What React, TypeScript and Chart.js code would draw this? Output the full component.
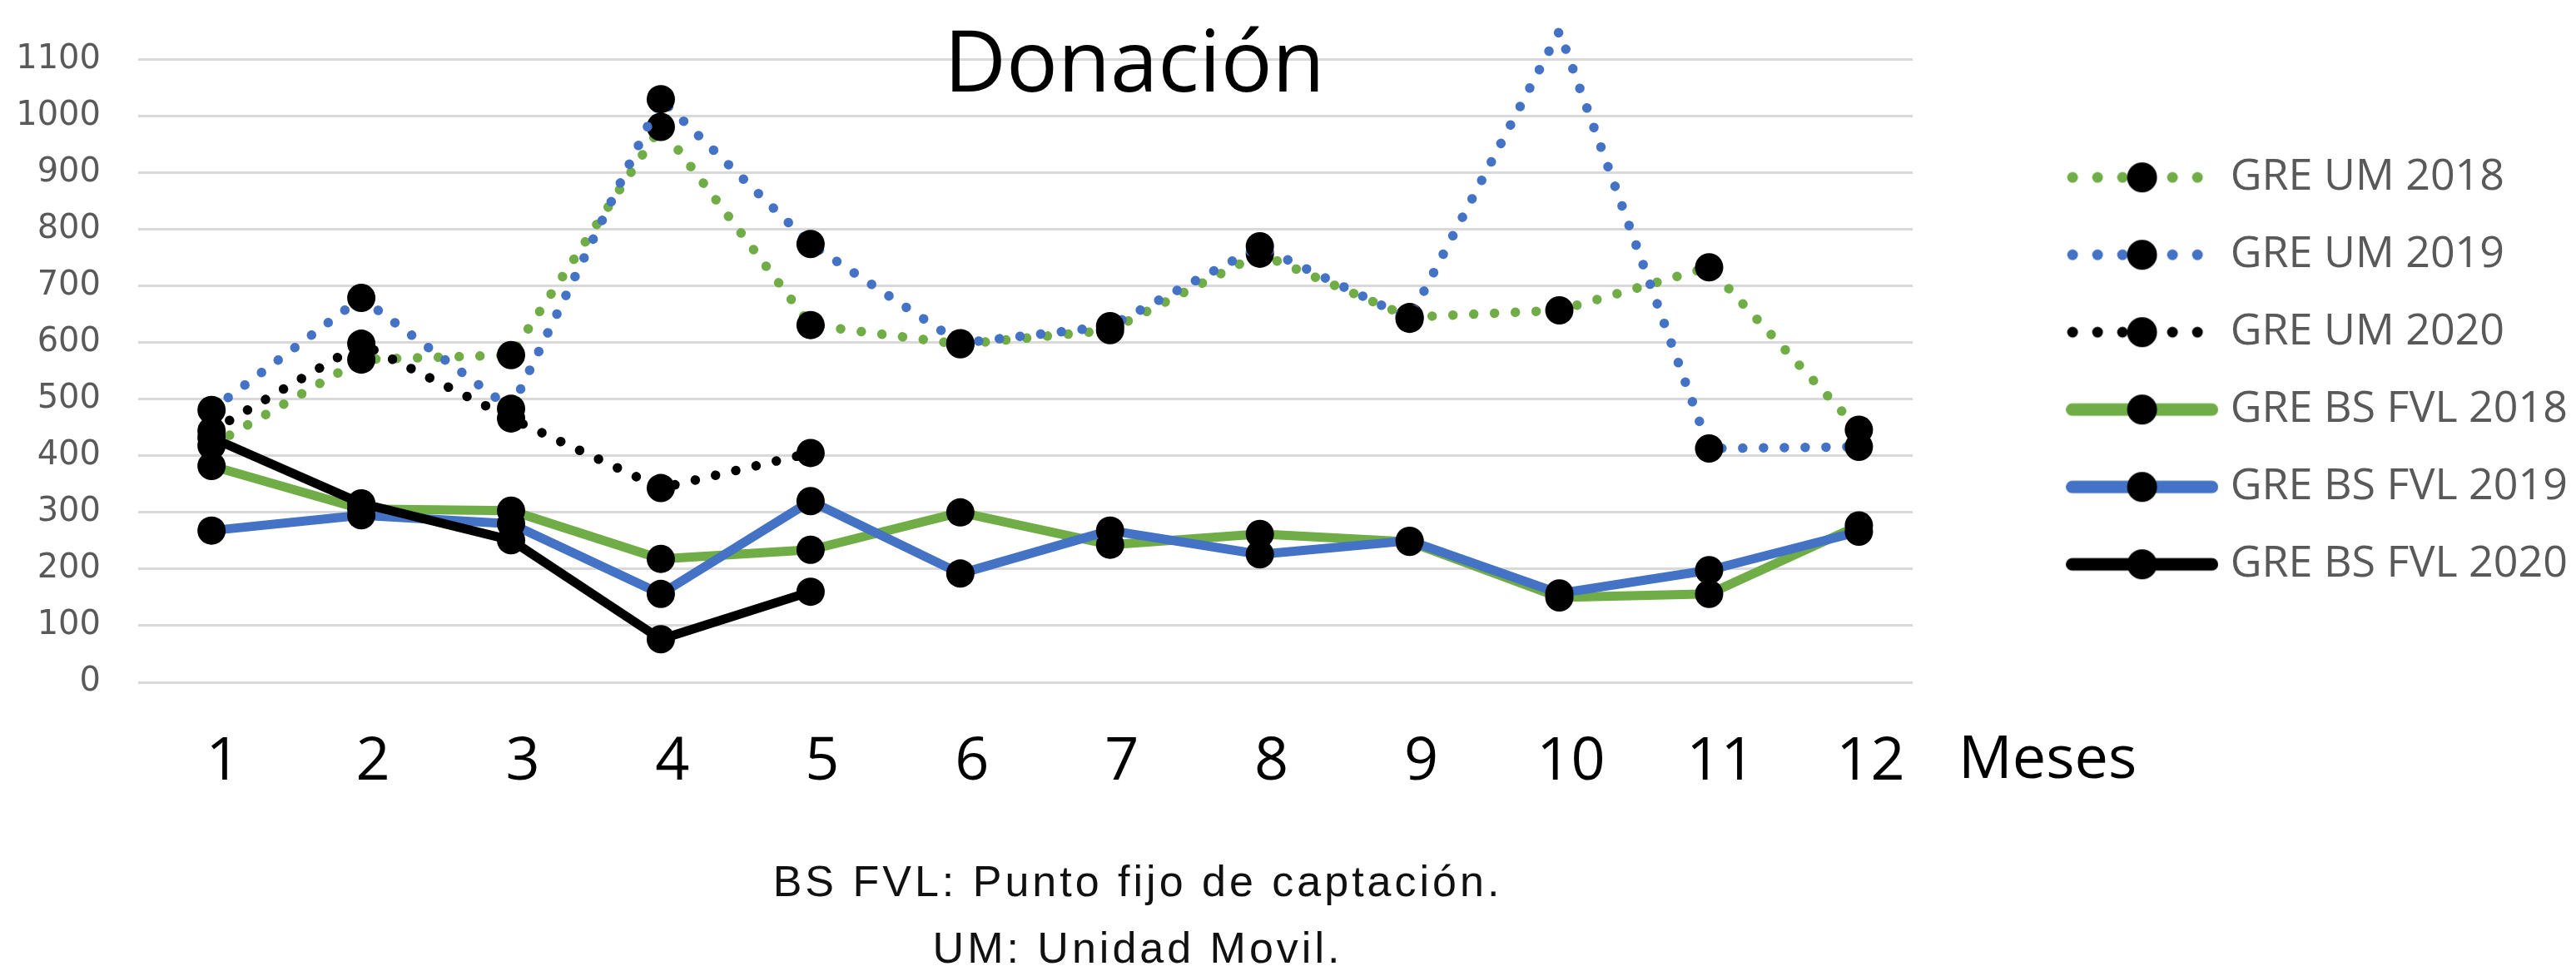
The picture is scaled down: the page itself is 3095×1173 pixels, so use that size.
import React, { useEffect, useRef } from 'react';
import { Chart, registerables } from 'chart.js';

Chart.register(...registerables);

// ---------- data ----------
const months = ['1', '2', '3', '4', '5', '6', '7', '8', '9', '10', '11', '12'];
const seriesNames = [
  'GRE UM 2018',
  'GRE UM 2019',
  'GRE UM 2020',
  'GRE BS FVL 2018',
  'GRE BS FVL 2019',
  'GRE BS FVL 2020',
];
const um2018 = [418, 570, 578, 981, 631, 597, 622, 757, 645, 657, 733, 446];
const um2019 = [481, 679, 483, 1030, 774, 599, 629, 770, 642, 1150, 413, 416];
const um2020 = [444, 598, 466, 343, 405];
const bs2018 = [382, 306, 303, 218, 234, 300, 243, 262, 248, 150, 156, 277];
const bs2019 = [268, 295, 280, 156, 320, 192, 268, 226, 250, 157, 198, 266];
const bs2020 = [432, 316, 251, 76, 160];
const yMin = 0;
const yMax = 1100;
const yStep = 100;
const titleText = 'Donación';
const xAxisTitle = 'Meses';
const notes = ['BS FVL: Punto fijo de captación.', 'UM: Unidad Movil.'];

// ---------- styles / layout ----------
const W = 3095;
const H = 1173;
const GREEN = '#70AD47';
const BLUE = '#4472C4';
const BLACK = '#000000';
const seriesStyle = [
  { color: GREEN, dotted: true },
  { color: BLUE, dotted: true },
  { color: BLACK, dotted: true },
  { color: GREEN, dotted: false },
  { color: BLUE, dotted: false },
  { color: BLACK, dotted: false },
];
const seriesData = [um2018, um2019, um2020, bs2018, bs2019, bs2020];

const PLOT_LEFT = 166;
const PLOT_RIGHT = 2305;
const PLOT_TOP = 71.5;
const PLOT_BOTTOM = 820;
const SANS = '"Open Sans", sans-serif';
const LEGEND_FONT = 52;
const LEGEND_PAD = 41;
const LEGEND_BOXW = 160;
const LEGEND_ITEM_X = 2500.5;
const SAMPLE_W = 183;
const SAMPLE_H = 44;

function makeSample(color: string, dotted: boolean): HTMLCanvasElement {
  const c = document.createElement('canvas');
  c.width = SAMPLE_W;
  c.height = SAMPLE_H;
  const g = c.getContext('2d')!;
  const cy = SAMPLE_H / 2;
  if (dotted) {
    g.fillStyle = color;
    for (let k = 0; k < 6; k++) {
      g.beginPath();
      g.arc(8 + k * 30, cy, 6.5, 0, Math.PI * 2);
      g.fill();
    }
  } else {
    g.strokeStyle = color;
    g.lineWidth = 15;
    g.lineCap = 'round';
    g.beginPath();
    g.moveTo(7.5, cy);
    g.lineTo(SAMPLE_W - 7.5, cy);
    g.stroke();
  }
  g.fillStyle = '#000';
  g.beginPath();
  g.arc(SAMPLE_W / 2, cy, 18, 0, Math.PI * 2);
  g.fill();
  return c;
}

export default function App() {
  const ref = useRef<HTMLCanvasElement>(null);

  useEffect(() => {
    const canvas = ref.current!;
    const mctx = canvas.getContext('2d')!;
    mctx.font = `normal ${LEGEND_FONT}px ${SANS}`;
    const maxTextW = Math.max(...seriesNames.map((n) => mctx.measureText(n).width));
    const legendLeft = LEGEND_ITEM_X - LEGEND_PAD;
    const legendWidth = LEGEND_PAD + LEGEND_BOXW + LEGEND_FONT / 2 + maxTextW + 10;
    const padRight = Math.max(0, W - legendLeft - legendWidth);
    const gapWidth = legendLeft - PLOT_RIGHT;

    const samples = seriesStyle.map((s) => makeSample(s.color, s.dotted));

    const datasets = seriesNames.map((name, i) => {
      const st = seriesStyle[i];
      return {
        label: name,
        data: seriesData[i].map((v, j) => ({ x: Number(months[j]), y: v })),
        borderColor: st.color,
        backgroundColor: st.color,
        borderWidth: st.dotted ? 11.5 : 11,
        borderDash: st.dotted ? [0.01, 25] : [],
        borderCapStyle: 'round' as const,
        borderJoinStyle: 'round' as const,
        pointRadius: 17,
        pointHoverRadius: 17,
        pointBackgroundColor: '#000',
        pointBorderColor: '#000',
        pointBorderWidth: 0,
        tension: 0,
        fill: false,
        clip: false as const,
        order: seriesNames.length - i,
      };
    });

    const chart = new Chart(canvas, {
      type: 'line',
      data: { datasets },
      options: {
        animation: false,
        responsive: false,
        devicePixelRatio: 1,
        events: [],
        layout: { padding: { top: PLOT_TOP, right: padRight, bottom: 0, left: 0 } },
        plugins: {
          title: { display: false },
          tooltip: { enabled: false },
          legend: {
            display: true,
            position: 'right',
            align: 'center',
            fullSize: false,
            maxWidth: 1200,
            labels: {
              usePointStyle: true,
              pointStyleWidth: LEGEND_BOXW,
              padding: LEGEND_PAD,
              color: '#595959',
              font: { family: SANS, size: LEGEND_FONT },
              generateLabels: (ch: any) =>
                ch.data.datasets.map((ds: any, i: number) => ({
                  text: ds.label,
                  pointStyle: samples[i],
                  fillStyle: 'rgba(0,0,0,0)',
                  strokeStyle: 'rgba(0,0,0,0)',
                  lineWidth: 0,
                  hidden: false,
                  datasetIndex: i,
                  fontColor: '#595959',
                })),
            },
          },
        },
        scales: {
          x: {
            type: 'linear',
            min: 0.51,
            max: 12.36,
            grid: { display: false, drawTicks: false },
            border: { display: false },
            ticks: {
              stepSize: 1,
              includeBounds: false,
              autoSkip: false,
              maxRotation: 0,
              minRotation: 0,
              labelOffset: 14,
              padding: 53,
              color: '#000',
              font: { family: SANS, size: 72 },
              callback: (v: any) => months[Number(v) - 1] ?? '',
            },
            afterFit: (s: any) => {
              s.height = H - PLOT_BOTTOM;
            },
          },
          y: {
            type: 'linear',
            position: 'left',
            min: yMin,
            max: yMax,
            grid: { color: '#d9d9d9', lineWidth: 3, drawTicks: false },
            border: { display: false },
            ticks: {
              stepSize: yStep,
              padding: 45,
              color: '#595959',
              font: { family: '"DejaVu Sans", sans-serif', size: 40 },
              callback: (v: any) => String(v),
            },
            afterFit: (s: any) => {
              s.width = PLOT_LEFT;
            },
          },
          gap: {
            type: 'linear',
            position: 'right',
            display: true,
            grid: { display: false, drawTicks: false },
            border: { display: false },
            ticks: { display: false },
            afterFit: (s: any) => {
              s.width = gapWidth;
            },
          },
        },
      } as any,
    });

    return () => chart.destroy();
  }, []);

  const textBase: React.CSSProperties = {
    position: 'absolute',
    lineHeight: 1,
    whiteSpace: 'nowrap',
    pointerEvents: 'none',
  };

  return (
    <div style={{ position: 'fixed', left: 0, top: 0, width: W, height: H, background: '#fff', overflow: 'hidden' }}>
      <canvas ref={ref} width={W} height={H} style={{ display: 'block', width: W, height: H }} />
      <div
        style={{
          ...textBase,
          left: 1363,
          top: 18.5,
          transform: 'translateX(-50%)',
          fontFamily: SANS,
          fontSize: 103,
          color: '#000',
        }}
      >
        {titleText}
      </div>
      <div style={{ ...textBase, left: 2353, top: 871, fontFamily: SANS, fontSize: 72, color: '#000' }}>
        {xAxisTitle}
      </div>
      {notes.map((n, i) => (
        <div
          key={i}
          style={{
            ...textBase,
            left: 1367,
            top: 1033 + i * 80,
            transform: 'translateX(-50%)',
            fontFamily: '"Liberation Sans", Arial, sans-serif',
            fontSize: 52,
            letterSpacing: '4px',
            color: '#111',
          }}
        >
          {n}
        </div>
      ))}
    </div>
  );
}
